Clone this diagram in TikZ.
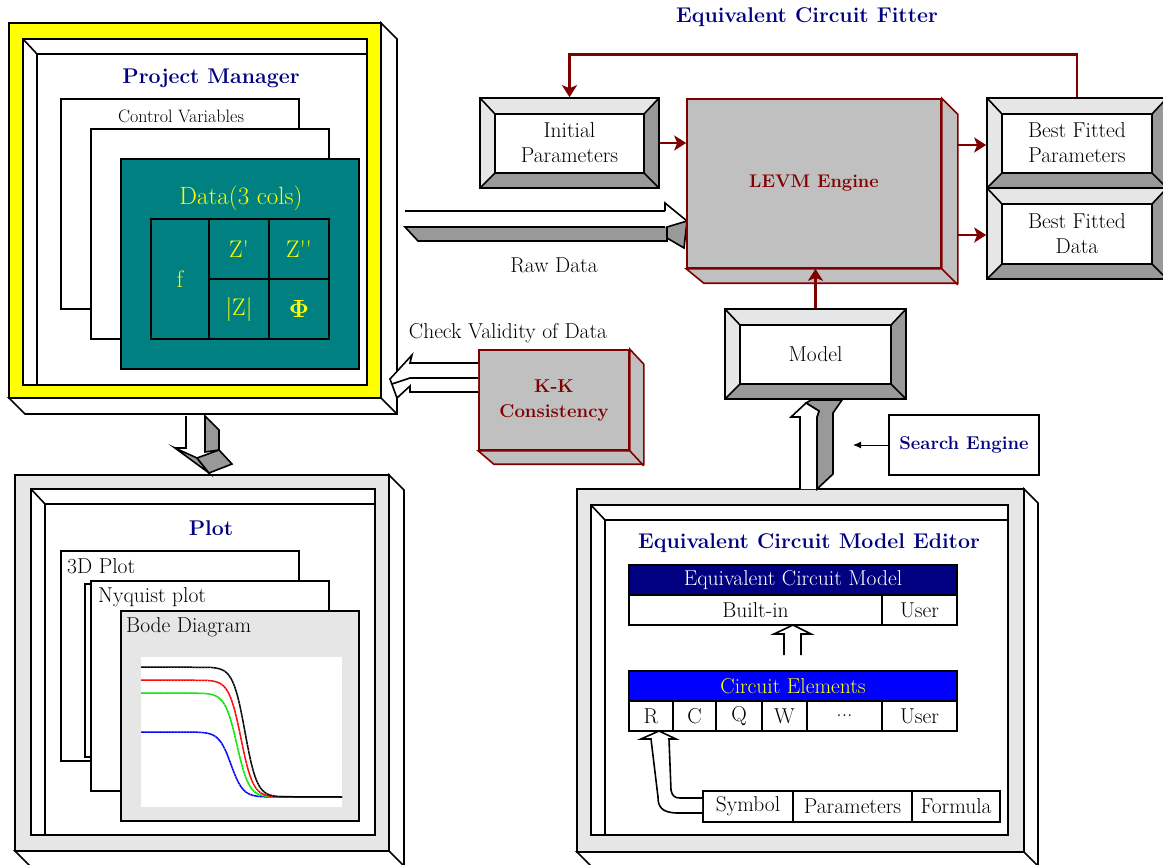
\documentclass[tikz,border=0pt]{standalone}
\usetikzlibrary{arrows.meta}
\definecolor{cNavy}{RGB}{0,0,128}
\definecolor{cDred}{RGB}{128,0,0}
\definecolor{cTeal}{RGB}{0,128,128}
\definecolor{cLight}{RGB}{230,230,230}
\definecolor{cDark}{RGB}{153,153,153}
\definecolor{cBox}{RGB}{192,192,192}
\definecolor{cYel}{RGB}{255,255,0}
\definecolor{cBlue}{RGB}{0,0,255}
\definecolor{cGreen}{RGB}{0,230,0}
\definecolor{cRed}{RGB}{255,0,0}
\newcommand\fsz[2]{\fontsize{#1}{#2}\selectfont}

% white extrusion of a block towards the lower right
\newcommand\slab[5]{%
  \filldraw[ol, fill=white] (#1,#4) -- ({#1+#5},{#4+#5}) -- ({#3+#5},{#4+#5}) -- ({#3+#5},{#2+#5}) -- (#3,#2) -- (#3,#4) -- cycle;
  \draw[ol] (#3,#4) -- ({#3+#5},{#4+#5});}
% recessed white panel with a bevel strip on top and left
\newcommand\bevelframe[4]{%
  \filldraw[ol, fill=white] (#1,#2) rectangle (#3,#4);
  \draw[ol] (#1,#2) -- ({#1+14},{#2+15}) -- (#3,{#2+15}) ({#1+14},{#2+15}) -- ({#1+14},#4);}
% raised button-like box: light top/left faces, dark bottom/right faces
\newcommand\bevelbox[6]{%
  \fill[cLight] (#2,#3) -- (#4,#3) -- ({#4-15},{#3+16}) -- ({#2+15},{#3+16}) -- ({#2+15},{#5-15}) -- (#2,#5) -- cycle;
  \fill[cDark] (#4,#3) -- (#4,#5) -- (#2,#5) -- ({#2+15},{#5-15}) -- ({#4-15},{#5-15}) -- ({#4-15},{#3+16}) -- cycle;
  \draw[ol] ({#2+15},{#3+16}) rectangle ({#4-15},{#5-15});
  \draw[ol] (#2,#3) -- ({#2+15},{#3+16}) (#4,#3) -- ({#4-15},{#3+16})
            (#2,#5) -- ({#2+15},{#5-15}) (#4,#5) -- ({#4-15},{#5-15});
  \node[ol, draw, lbl, minimum width={#4-#2}, minimum height={#5-#3}] (#1) at ({(#2+#4)/2},{(#3+#5)/2}) {#6};}
% step response curve of the Bode magnitude plot
\newcommand\stepcurve[5]{%
  \draw[curve, #1] (141,#2) -- plot[domain=#4:#5, samples=60] (\x,{797-(797-#2)/(1+exp((\x-#3)/6))}) -- (342,797);
  \draw[#1!60!white, line width=0.8pt, dash pattern=on 0.8pt off 2.2pt] (141,#2) -- plot[domain=#4:#5, samples=60] (\x,{797-(797-#2)/(1+exp((\x-#3)/6))});}

\begin{document}
\begin{tikzpicture}[x=1pt, y=-1pt,
  ol/.style={line width=1.6pt},
  lbl/.style={font=\fsz{21.5}{25}, align=center, inner sep=0},
  ttl/.style={font=\fsz{21.3}{24}\bfseries, text=cNavy, inner sep=0},
  boldlbl/.style={font=\fsz{18.6}{25}\bfseries, align=center, inner sep=0},
  redarr/.style={draw=cDred, line width=2.8pt, -{Stealth[length=12pt,width=15pt,inset=3pt]}},
  panel/.style={ol, draw, fill=white, inner sep=0, minimum width=238, minimum height=210},
  tcell/.style={ol, draw, fill=white, inner sep=0, font=\fsz{21.5}{24}},
  dcell/.style={ol, draw, inner sep=0, text=cYel, font=\fsz{24}{26}},
  curve/.style={line width=1.5pt},
  plain/.style={font=\fsz{21.5}{24}, inner sep=0}]
\useasboundingbox (0,0) rectangle (1163,865);

% ---------------- Project Manager ----------------
\slab{9}{23}{381}{398}{16}
\node[ol, draw, fill=cYel, minimum width=372, minimum height=375, inner sep=0] (pm) at (195,210.5) {};
\bevelframe{23}{39}{367}{385}
\node[ttl] (pmtitle) at (211,78) {Project Manager};
\node[panel] (ctrl) at (180,204) {};
\node[font=\fsz{18}{20}, inner sep=0] (ctrltxt) at (181,116) {Control Variables};
\node[panel] (mid) at (210,234) {};
\node[panel, fill=cTeal] (data) at (240,264) {};
\node[font=\fsz{25}{27}, text=cYel, inner sep=0] (datatxt) at (241,198) {Data(3 cols)};
\node[dcell, minimum width=58, minimum height=120] (df) at (180,279) {f};
\node[dcell, minimum width=60, minimum height=60] (dz1) at (239,249) {Z\textquotesingle};
\node[dcell, minimum width=60, minimum height=60] (dz2) at (299,249) {Z\textquotesingle\textquotesingle};
\node[dcell, minimum width=60, minimum height=60] (dzm) at (239,309) {\textbar Z\textbar};
\node[dcell, minimum width=60, minimum height=60] (dph) at (299,309) {$\mathbf{\Phi}$};

% ---------------- Raw data arrow ----------------
\fill[white] (405,211) rectangle (667,227);
\draw[ol] (405,211) -- (665,211);
\filldraw[ol, fill=cDark] (405,227) -- (667,227) -- (667,241) -- (418,241) -- cycle;
\fill[white] (665,211) -- (665,203) -- (687,221) -- (667,229) -- (665,227) -- cycle;
\draw[ol] (665,211) -- (665,203) -- (687,221);
\filldraw[ol, fill=cDark] (667,227) -- (687,221) -- (684,248) -- (667,238) -- cycle;
\node[plain] (rawtxt) at (554,265) {Raw Data};

% ---------------- Equivalent Circuit Fitter ----------------
\node[ttl] (fittitle) at (807,17) {Equivalent Circuit Fitter};
\bevelbox{init}{480}{98}{659}{188}{Initial\\Parameters}
\bevelbox{bfp}{987}{98}{1167}{188}{Best Fitted\\Parameters}
\bevelbox{bfd}{987}{188}{1167}{279}{Best Fitted\\Data}
\node[ol, draw=cDred, fill=cBox, minimum width=254, minimum height=169, inner sep=0,
      font=\fsz{18.3}{22}\bfseries, text=cDred] (levm) at (814,183.5) {LEVM Engine};
\filldraw[ol, draw=cDred, fill=cBox] (levm.north east) -- ++(16,16) -- ++(0,169) -- ++(-254,0)
   -- (levm.south west) -- (levm.south east) -- cycle;
\draw[ol, draw=cDred] (levm.south east) -- ++(16,16);
\coordinate (levmR1) at (957,145);
\coordinate (levmR2) at (957,235);
\draw[redarr] (init.east) -- (levm.west |- init.east);
\draw[redarr] (levmR1) -- (bfp.west |- levmR1);
\draw[redarr] (levmR2) -- (bfd.west |- levmR2);
\draw[redarr] (bfp.north) -- ++(0,-43) -| (init.north);

% ---------------- Model ----------------
\bevelbox{model}{725}{309}{906}{399}{Model}
\draw[redarr] (model.north) -- (model.north |- levm.south);

% ---------------- K-K consistency ----------------
\node[plain] (chk) at (508,333) {Check Validity of Data};
\node[ol, draw=cDred, fill=cBox, minimum width=150, minimum height=100, inner sep=0,
      boldlbl, text=cDred] (kk) at (554,400) {K-K\\Consistency};
\filldraw[ol, draw=cDred, fill=cBox] (kk.north east) -- ++(14,15) -- ++(0,100) -- ++(-150,0)
   -- (kk.south west) -- (kk.south east) -- cycle;
\draw[ol, draw=cDred] (kk.south east) -- ++(14,15);
\filldraw[ol, fill=white] (kk.west |- 0,363) -- (410,363) -- (412,355) -- (390,379) -- (397,398)
   -- (410,386) -- (410,392) -- (kk.west |- 0,392);
\draw[ol] (kk.west |- 0,378) -- (410,378) -- (392,384);

% ---------------- Search engine ----------------
\node[ol, draw, fill=white, minimum width=150, minimum height=60, inner sep=0,
      font=\fsz{18.5}{22}\bfseries, text=cNavy] (se) at (964,445) {Search Engine};
\coordinate (seTip) at (853,445);
\draw[line width=1pt, -{Latex[length=8pt,width=7pt]}] (se.west) -- (seTip);

% ---------------- Plot ----------------
\slab{15}{475}{389}{851}{15}
\node[ol, draw, fill=cLight, minimum width=374, minimum height=376, inner sep=0] (plot) at (202,663) {};
\bevelframe{31}{489}{375}{835}
\node[ttl] (plottitle) at (211,528) {Plot};
\node[panel] (p3d) at (180,656) {};
\node[plain, anchor=west] (p3dtxt) at (67,566) {3D Plot};
\draw[ol, fill=white] (85,584) rectangle (91,757);
\node[panel] (pnyq) at (210,686) {};
\node[plain, anchor=west] (pnyqtxt) at (98,597) {Nyquist plot};
\node[panel, fill=cLight] (pbode) at (240,716) {};
\node[plain, anchor=west] (pbodetxt) at (126,627) {Bode Diagram};
\fill[white] (141,657) rectangle (342,807);
\stepcurve{blue}{732}{231}{195}{267}
\stepcurve{cGreen}{693}{237}{201}{273}
\stepcurve{cRed}{680}{241}{205}{277}
\stepcurve{black}{667}{245}{209}{281}

% arrow from the project manager down to the plot block
\fill[white] (186,416) -- (186,448) -- (175,448) -- (197,458) -- (205,452) -- (205,416) -- cycle;
\draw[ol] (186,416) -- (186,448) -- (175,448);
\filldraw[ol, fill=cDark] (205,416) -- (219,430) -- (219,450) -- (205,452) -- cycle;
\filldraw[ol, fill=cDark] (175,448) -- (197,458) -- (209,473) -- cycle;
\filldraw[ol, fill=cDark] (197,458) -- (219,450) -- (232,464) -- (209,473) -- cycle;

% ---------------- Equivalent Circuit Model Editor ----------------
\slab{577}{489}{1024}{852}{14}
\node[ol, draw, fill=cLight, minimum width=447, minimum height=363, inner sep=0] (editor) at (800.5,670.5) {};
\bevelframe{591}{505}{1008}{835}
\node[ttl] (edtitle) at (809,543) {Equivalent Circuit Model Editor};
\node[tcell, fill=cNavy, text=white, minimum width=328, minimum height=30] (ecm) at (793,580) {Equivalent Circuit Model};
\node[tcell, minimum width=253, minimum height=30] (builtin) at (755.5,610) {Built-in};
\node[tcell, minimum width=75, minimum height=30] (user1) at (919.5,610) {User};
\node[tcell, fill=cBlue, text=cYel, minimum width=328, minimum height=30] (ce) at (793,686) {Circuit Elements};
\node[tcell, minimum width=44, minimum height=30] (eR) at (651,716) {R};
\node[tcell, minimum width=43, minimum height=30] (eC) at (694.5,716) {C};
\node[tcell, minimum width=46, minimum height=30] (eQ) at (739,716) {Q};
\node[tcell, minimum width=45, minimum height=30] (eW) at (784.5,716) {W};
\node[tcell, minimum width=75, minimum height=30] (eDots) at (844.5,716) {...};
\node[tcell, minimum width=75, minimum height=30] (user2) at (919.5,716) {User};
\node[tcell, minimum width=90, minimum height=31] (sym) at (748,806.5) {Symbol};
\node[tcell, minimum width=119, minimum height=31] (par) at (852.5,806.5) {Parameters};
\node[tcell, minimum width=88, minimum height=31] (frm) at (956,806.5) {Formula};
% hollow double arrow from the elements up to the model table
\draw[ol] (784,655) -- (784,634) -- (774,634) -- (793,625) -- (811,634) -- (801,634) -- (801,655);
% hollow bent arrow from the symbol cell to the R cell
\filldraw[ol, fill=white] (sym.west |- 0,813) -- (678,813) .. controls (661,813) and (658,806) .. (658,797)
   -- (651,739) -- (641,739) -- (659,731) -- (676,739) -- (669,739) -- (671,790)
   .. controls (672,796) and (675,798) .. (680,798) -- (sym.west |- 0,798);

% arrow from the editor up to the model
\filldraw[ol, fill=cDark] (817,489) -- (833,474) -- (833,413) -- (842,400) -- (811,400) -- (806,403)
   -- (819,411) -- (817,417) -- cycle;
\filldraw[ol, fill=white] (800,489) -- (800,417) -- (791,417) -- (806,403) -- (819,411) -- (817,417) -- (817,489);
\end{tikzpicture}
\end{document}
